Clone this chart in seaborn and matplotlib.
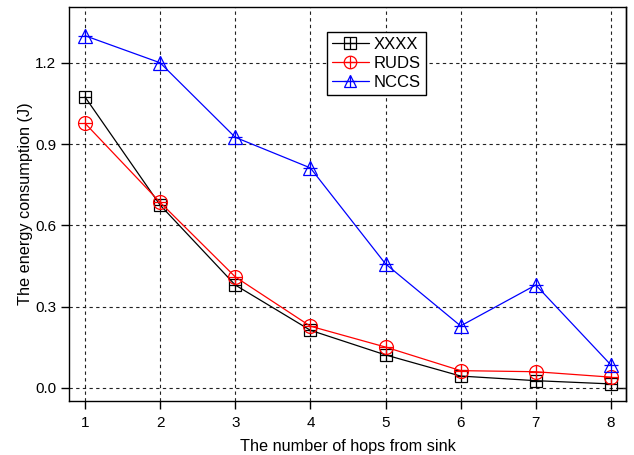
import numpy as np
import pandas as pd
import seaborn as sns
import matplotlib.pyplot as plt
from matplotlib.lines import Line2D
from matplotlib.legend_handler import HandlerTuple

# data
hops = [1, 2, 3, 4, 5, 6, 7, 8]
xxxx = [1.074, 0.675, 0.38, 0.213, 0.122, 0.044, 0.027, 0.015]
ruds = [0.977, 0.685, 0.41, 0.228, 0.151, 0.064, 0.060, 0.040]
nccs = [1.300, 1.200, 0.925, 0.812, 0.458, 0.229, 0.380, 0.085]

names = ["XXXX", "RUDS", "NCCS"]
colors = ["black", "red", "blue"]
markers = ["s", "o", "^"]
yticks = [0.0, 0.3, 0.6, 0.9, 1.2]

sns.set_style("ticks")
plt.rcParams['font.family'] = ['Liberation Sans', 'DejaVu Sans']
plt.rcParams['text.color'] = 'black'
plt.rcParams['axes.labelcolor'] = 'black'
plt.rcParams['xtick.color'] = 'black'
plt.rcParams['ytick.color'] = 'black'

fig = plt.figure(figsize=(6.34, 4.55), dpi=100)
ax = fig.add_axes([0.1088, 0.1187, 0.8785, 0.866])

handles = []
for name, vals, c, m in zip(names, [xxxx, ruds, nccs], colors, markers):
    df = pd.DataFrame({"hops": hops, "energy": vals})
    ms = 10 if m != 's' else 9
    sns.lineplot(data=df, x="hops", y="energy", ax=ax, color=c, lw=0.9,
                 marker=m, markersize=ms, markerfacecolor='none',
                 markeredgecolor=c, markeredgewidth=0.9)
    # plus sign inside the open marker
    sns.lineplot(data=df, x="hops", y="energy", ax=ax, color=c, lw=0,
                 marker='+', markersize=ms, markeredgecolor=c, markeredgewidth=0.9)
    h1 = Line2D([], [], color=c, lw=0.9, marker=m, markersize=ms - 1,
                markerfacecolor='none', markeredgecolor=c, markeredgewidth=0.9)
    h2 = Line2D([], [], color=c, lw=0, marker='+', markersize=ms - 1,
                markeredgecolor=c, markeredgewidth=0.9)
    handles.append((h1, h2))

ax.set_xlim(0.787, 8.2)
ax.set_ylim(-0.048, 1.406)
ax.set_xticks(hops)
ax.set_yticks(yticks)
ax.set_yticklabels([f"{v:.1f}" for v in yticks])
ax.grid(True, ls=(0, (3, 3)), color='#222222', lw=0.8)
ax.set_axisbelow(True)
for s in ax.spines.values():
    s.set_linewidth(1.0)
    s.set_color('black')
ax.tick_params(axis='both', direction='out', length=6, width=1.0, labelsize=11, pad=3)
ax.tick_params(axis='x', pad=5)

# inward ticks on the right spine
sec = ax.secondary_yaxis('right')
sec.set_yticks(yticks)
sec.tick_params(direction='in', length=7, width=1.0, labelright=False)
sec.spines['right'].set_linewidth(1.0)

ax.set_xlabel("The number of hops from sink", fontsize=11.7, labelpad=6)
ax.set_ylabel("The energy consumption (J)", fontsize=11.7, labelpad=2)

leg = ax.legend(handles, names, handler_map={tuple: HandlerTuple(ndivide=1)},
                loc='upper left', bbox_to_anchor=(0.463, 0.937), borderaxespad=0,
                fontsize=12, handlelength=2.2, fancybox=False, framealpha=1,
                edgecolor='black', labelspacing=0.25, handletextpad=0.3,
                borderpad=0.3)
leg.get_frame().set_linewidth(1.0)

fig.savefig("out.png", dpi=100)
